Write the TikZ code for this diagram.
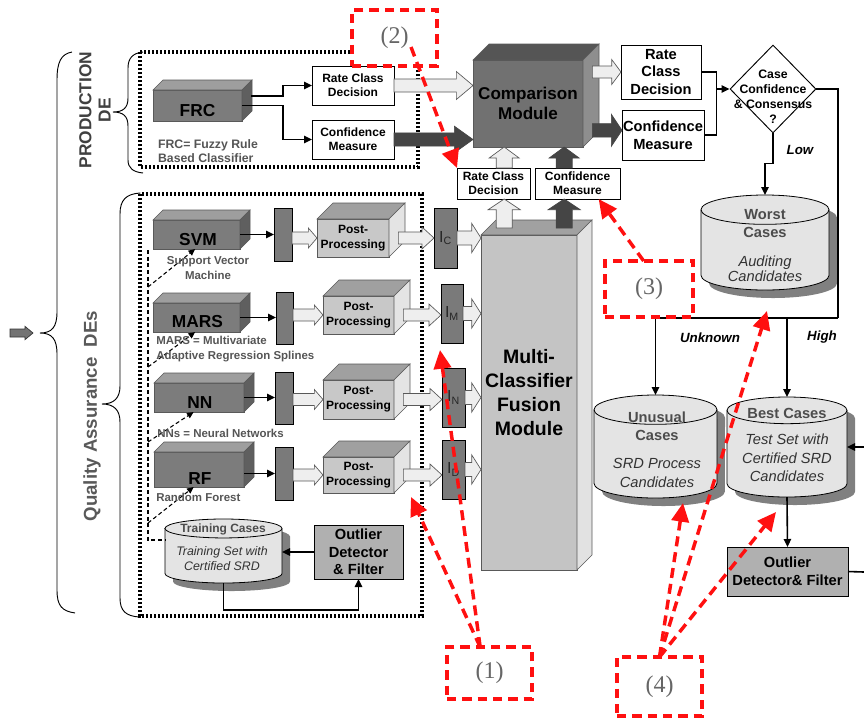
\documentclass[tikz,border=0pt]{standalone}
\usepackage{fontspec}
\setmainfont{Liberation Sans}
\newfontfamily\serifnum{Liberation Serif}
\usetikzlibrary{calc,arrows.meta,shapes.geometric}

\definecolor{cfront}{HTML}{7C7C7C}
\definecolor{ctop}{HTML}{9E9E9E}
\definecolor{cside}{HTML}{5F5F5F}
\definecolor{ppfront}{HTML}{C8C8C8}
\definecolor{pptop}{HTML}{A0A0A0}
\definecolor{ppside}{HTML}{E4E4E4}
\definecolor{cmpfront}{HTML}{717171}
\definecolor{cmptop}{HTML}{555555}
\definecolor{cmpside}{HTML}{8E8E8E}
\definecolor{fusfront}{HTML}{C4C4C4}
\definecolor{fustop}{HTML}{A1A1A1}
\definecolor{fusside}{HTML}{E2E2E2}
\definecolor{barfill}{HTML}{7A7A7A}
\definecolor{outfill}{HTML}{B0B0B0}
\definecolor{drumfill}{HTML}{E4E4E4}
\definecolor{drumshadow}{HTML}{808080}
\definecolor{lightarr}{HTML}{EEEEEE}
\definecolor{darkarr}{HTML}{454545}
\definecolor{notegray}{HTML}{555555}
\definecolor{annred}{HTML}{FF1010}
\definecolor{anngray}{HTML}{666666}

% top and right faces of a box whose front face is node #1
\newcommand{\cubefaces}[4]{%
  \filldraw[cubeedge, fill=#3] (#1.north west) -- ++(#2,-#2) -- ($(#1.north east)+(#2,-#2)$) -- (#1.north east) -- cycle;
  \filldraw[cubeedge, fill=#4] (#1.north east) -- ($(#1.north east)+(#2,-#2)$) -- ($(#1.south east)+(#2,-#2)$) -- (#1.south east) -- cycle;
}
% database drum drawn around node #1 (x radius #2, y radius #3, fill #4)
\newcommand{\drum}[4]{%
  \fill[drumshadow] ($(#1.north west)+(6pt,-6pt-#3)$) -- ($(#1.south west)+(6pt,-6pt+#3)$)
     arc[start angle=180, end angle=360, x radius=#2, y radius=#3]
     -- ($(#1.north east)+(6pt,-6pt-#3)$)
     arc[start angle=0, end angle=180, x radius=#2, y radius=#3] -- cycle;
  \filldraw[draw=black, line width=0.6pt, fill=#4] ($(#1.north west)+(0pt,-#3)$) -- ($(#1.south west)+(0pt,#3)$)
     arc[start angle=180, end angle=360, x radius=#2, y radius=#3]
     -- ($(#1.north east)+(0pt,-#3)$)
     arc[start angle=0, end angle=180, x radius=#2, y radius=#3] -- cycle;
  \draw[line width=0.6pt] ($(#1.north west)+(0pt,-#3)$) arc[start angle=180, end angle=360, x radius=#2, y radius=#3];
}
% block arrow pointing right: style, from, to, shaft half width, head half width, head length
\newcommand{\blockright}[6]{%
  \filldraw[#1] let \p1=(#2), \p2=(#3) in
    (\x1,\y1+#4) -- (\x2-#6,\y1+#4) -- (\x2-#6,\y1+#5) -- (\x2,\y1) -- (\x2-#6,\y1-#5) -- (\x2-#6,\y1-#4) -- (\x1,\y1-#4) -- cycle;
}
% block arrow pointing up
\newcommand{\blockup}[6]{%
  \filldraw[#1] let \p1=(#2), \p2=(#3) in
    (\x1-#4,\y1) -- (\x1-#4,\y2-#6) -- (\x1-#5,\y2-#6) -- (\x1,\y2) -- (\x1+#5,\y2-#6) -- (\x1+#4,\y2-#6) -- (\x1+#4,\y1) -- cycle;
}

\begin{document}
\begin{tikzpicture}[x=0.75pt,y=-0.75pt,
  spanpx/.style n args={4}{anchor=north west, inner sep=0pt, outer sep=0pt,
     minimum width={(#3-#1)*0.75pt}, minimum height={(#4-#2)*0.75pt}, at={(#1,#2)}},
  boxnode/.style={draw=black, line width=0.7pt, fill=white, align=center, font=\bfseries\fontsize{9}{10.8}\selectfont},
  bigbox/.style={boxnode, font=\bfseries\fontsize{11}{13.4}\selectfont},
  cubefront/.style={draw=black!65, line width=0.4pt},
  cubeedge/.style={draw=black!65, line width=0.4pt},
  ppnode/.style={cubefront, fill=ppfront, align=center, font=\bfseries\fontsize{9}{11.2}\selectfont},
  barnode/.style={draw=black, line width=0.6pt, fill=barfill},
  ibox/.style={draw=black, line width=0.6pt, fill=barfill, text=black!85, font=\fontsize{12}{14}\selectfont},
  lbl/.style={inner sep=0pt, align=center, text=black},
  conn/.style={draw=black, line width=1.2pt, -{Triangle[length=6pt,width=5.5pt]}},
  plainline/.style={draw=black, line width=1.2pt},
  dline/.style={draw=black, line width=0.8pt, dash pattern=on 3pt off 2pt},
  darr/.style={dline, -{Triangle[length=5pt,width=4.5pt]}},
  dotbox/.style={draw=black, line width=2.4pt, dash pattern=on 1.8pt off 1.2pt},
  bracepath/.style={draw=black, line width=0.7pt},
  note/.style={inner sep=0pt, text=notegray, font=\bfseries\fontsize{8.6}{11.2}\selectfont},
  ann/.style={draw=annred, fill=white, line width=2.5pt, dash pattern=on 7pt off 4.5pt, text=anngray, font=\serifnum\fontsize{18}{20}\selectfont},
  annarr/.style={draw=annred, line width=2.6pt, dash pattern=on 7.5pt off 4.5pt, -{Triangle[length=14pt,width=13pt]}},
  lightblk/.style={fill=lightarr, draw=black!65, line width=0.5pt},
  darkblk/.style={fill=darkarr, draw=darkarr, line width=0.5pt},
  cyltxt/.style={inner sep=0pt, align=center, text=black!70, font=\bfseries\fontsize{11}{13.5}\selectfont},
  cylit/.style={inner sep=0pt, align=center, text=black!80, font=\itshape\fontsize{11}{13.8}\selectfont},
  branch/.style={inner sep=0pt, font=\bfseries\itshape\fontsize{10}{12}\selectfont}]

\useasboundingbox (0,0) rectangle (864,719);

% ---------- frames and braces ----------
\draw[dotbox] (140,52) rectangle (418,167);
\draw[dotbox] (140,194) rectangle (422,616);

\draw[bracepath] (72,52) .. controls (61,54) and (57,62) .. (57,80) -- (57,312)
   .. controls (57,327) and (52,333) .. (40,333) .. controls (52,333) and (57,339) .. (57,354)
   -- (57,590) .. controls (57,606) and (62,611) .. (75,613);
\draw[bracepath] (143,52) .. controls (133,53) and (128,58) .. (128,68) -- (128,98)
   .. controls (128,108) and (123,112) .. (113,112) .. controls (123,112) and (128,116) .. (128,126)
   -- (128,160) .. controls (128,168) and (133,172) .. (143,173);
\draw[bracepath] (140,193) .. controls (126,194) and (120,200) .. (120,214) -- (120,386)
   .. controls (120,398) and (114,404) .. (102,404) .. controls (114,404) and (120,410) .. (120,422)
   -- (120,598) .. controls (120,611) and (126,616) .. (139,617);

\coordinate (inA) at (10,333);
\coordinate (inB) at (33,333);
\blockright{fill=black!55, draw=black!80, line width=0.5pt}{inA}{inB}{3pt}{5pt}{6pt}

\node[rotate=90, align=center, text=black!75, inner sep=0pt,
      font=\bfseries\fontsize{13}{14.5}\selectfont] (prodlbl) at (95,110) {PRODUCTION\\DE};
\node[rotate=90, text=black!65, inner sep=0pt,
      font=\bfseries\fontsize{14}{16}\selectfont] (qalbl) at (92,416) {Quality Assurance\ \ DEs};

% ---------- production decision engine ----------
\node[spanpx={153}{90}{242}{121}, cubefront, fill=cfront] (frc) {};
\cubefaces{frc}{10}{ctop}{cside}
\node[lbl, font=\bfseries\fontsize{13}{15}\selectfont] (frclbl) at ([yshift=-4pt]frc.center) {FRC};
\node[note, align=left, font=\bfseries\fontsize{9.2}{10.5}\selectfont] (frcnote) at (208,151) {FRC= Fuzzy Rule\\Based Classifier};

\node[boxnode, spanpx={312}{66}{394}{105}] (rcd1) {Rate Class\\Decision};
\node[boxnode, spanpx={312}{120}{394}{159}] (cm1) {Confidence\\Measure};
\draw[conn] ([shift={(9,-9.5)}]frc.east) -- ++(32,0) |- (rcd1.west);
\draw[conn] (frc.east) -- ++(41,0) |- (cm1.west);

% ---------- comparison module ----------
\node[spanpx={473}{60}{583}{147}, cubefront, fill=cmpfront] (cmp) {};
\cubefaces{cmp}{16}{cmptop}{cmpside}
\node[lbl, font=\bfseries\fontsize{12.8}{15}\selectfont] (cmplbl) at (cmp.center) {Comparison\\Module};

\coordinate (cmpL1) at (cmp.west |- rcd1.east);
\blockright{lightblk}{rcd1.east}{cmpL1}{4.9pt}{10.5pt}{12.5pt}
\coordinate (cmpL2) at (cmp.west |- cm1.east);
\blockright{darkblk}{cm1.east}{cmpL2}{4.9pt}{10pt}{14pt}

\node[boxnode, font=\bfseries\fontsize{11}{13.4}\selectfont, spanpx={621}{45}{701}{99}] (rcd2) {Rate\\Class\\Decision};
\node[bigbox, spanpx={622}{110}{704}{160}] (cm2) {Confidence\\Measure};
\coordinate (cmpR) at ([xshift=7pt]cmp.east);
\coordinate (cm2in) at ([yshift=3.5pt]cm2.west);
\blockright{lightblk}{cmpR |- rcd2.west}{rcd2.west}{4.5pt}{9.4pt}{7pt}
\blockright{darkblk}{cmpR |- cm2in}{cm2in}{5pt}{12pt}{8pt}

% ---------- decision diamond ----------
\node[diamond, draw=black, line width=0.7pt, fill=white, minimum width=64.5pt, minimum height=66pt, inner sep=0pt] (dia) at (773,89) {};
\node[lbl, font=\bfseries\fontsize{9.2}{11.2}\selectfont] (dialbl) at (773,97) {Case\\Confidence\\\& Consensus\\?};
\coordinate (jn) at ($(dia.west)+(-13,0)$);
\draw[conn] (rcd2.east) -| (jn) -- (dia.west);
\draw[plainline] (cm2.east) -| (jn);

% ---------- case stores ----------
\node[spanpx={701}{195}{829}{290}] (worst) {};
\drum{worst}{48pt}{11pt}{drumfill}
\node[cyltxt] (worstA) at (765,224) {Worst\\Cases};
\node[cylit, font=\itshape\fontsize{11}{11}\selectfont] (worstB) at (765,269) {Auditing\\Candidates};
\draw[conn] (dia.south) -- ++(0,30) -| (worst.north);
\node[branch] (lowlbl) at (800,150) {Low};

\node[spanpx={594}{395}{717}{498}] (unus) {};
\drum{unus}{46.1pt}{11pt}{drumfill}
\node[cyltxt] (unusA) at (657,426) {Unusual\\Cases};
\node[cylit] (unusB) at (657,473) {SRD Process\\Candidates};

\node[spanpx={727}{397}{847}{497}] (best) {};
\drum{best}{45pt}{10pt}{drumfill}
\node[cyltxt] (bestA) at (787,413) {Best Cases};
\node[cylit] (bestB) at (787,458) {Test Set with\\Certified SRD\\Candidates};

\coordinate (rb) at (838,318);
\draw[plainline] (dia.east) -| (rb);
\draw[conn] (rb) -| (unus.north);
\draw[conn] (best.north |- rb) -- (best.north);
\node[branch] (unk) at (710,338) {Unknown};
\node[branch] (high) at (822,337) {High};

\coordinate (rin) at (864,447);
\draw[conn] (rin) -- (best.east |- rin);
\node[bigbox, fill=outfill, spanpx={727}{547}{848}{596}] (out2) {Outlier\\Detector\& Filter};
\draw[conn] (best.south) -- (out2.north);
\coordinate (rout) at (864,572);
\draw[plainline] (out2.east) -- (rout);

% ---------- fusion module ----------
\node[boxnode, spanpx={457}{168}{530}{199}] (rcdm) {Rate Class\\Decision};
\node[boxnode, spanpx={535}{168}{620}{199}] (cmm) {Confidence\\Measure};

\node[spanpx={481}{235}{577}{570}, cubefront, fill=fusfront] (fus) {};
\cubefaces{fus}{15}{fustop}{fusside}
\node[lbl, font=\bfseries\fontsize{14.6}{18.2}\selectfont] (fuslbl) at ([yshift=7.5pt]fus.center) {Multi-\\Classifier\\Fusion\\Module};

\coordinate (uL) at ([xshift=8pt]rcdm.north);
\coordinate (uD) at ([xshift=-10pt]cmm.north);
\coordinate (uLb) at ([xshift=8pt]rcdm.south);
\coordinate (uDb) at ([xshift=-10pt]cmm.south);
\blockup{lightblk}{uL}{uL |- cmp.south}{6pt}{11.25pt}{8.25pt}
\blockup{darkblk}{uD}{uD |- cmp.south}{6pt}{11.25pt}{8.25pt}
\coordinate (fL) at ($(uL |- fus.north)+(0,-7)$);
\coordinate (fD) at ($(uD |- fus.north)+(0,-7)$);
\blockup{lightblk}{fL}{uLb}{6pt}{12pt}{8pt}
\blockup{darkblk}{fD}{uDb}{6pt}{12pt}{8pt}

% ---------- quality assurance decision engines ----------
\node[spanpx={153}{220}{240}{249}, cubefront, fill=cfront] (svm) {};
\cubefaces{svm}{10}{ctop}{cside}
\node[lbl, font=\bfseries\fontsize{13}{15}\selectfont] (svmlbl) at ([shift={(1.5,5.5)}]svm.center) {SVM};
\node[spanpx={153}{303}{240}{332}, cubefront, fill=cfront] (mars) {};
\cubefaces{mars}{10}{ctop}{cside}
\node[lbl, font=\bfseries\fontsize{13}{15}\selectfont] (marslbl) at ([shift={(1,4.5)}]mars.center) {MARS};
\node[spanpx={154}{383}{244}{412}, cubefront, fill=cfront] (nn) {};
\cubefaces{nn}{10}{ctop}{cside}
\node[lbl, font=\bfseries\fontsize{13}{15}\selectfont] (nnlbl) at ([shift={(1,5)}]nn.center) {NN};
\node[spanpx={154}{452}{244}{487}, cubefront, fill=cfront] (rf) {};
\cubefaces{rf}{10}{ctop}{cside}
\node[lbl, font=\bfseries\fontsize{13}{15}\selectfont] (rflbl) at ([shift={(1,9)}]rf.center) {RF};

\node[barnode, spanpx={274}{208}{292}{261}] (bar1) {};
\node[barnode, spanpx={276}{292}{293}{344}] (bar2) {};
\node[barnode, spanpx={275}{372}{293}{424}] (bar3) {};
\node[barnode, spanpx={275}{447}{293}{500}] (bar4) {};
\draw[conn] (svm.east) -- (svm.east -| bar1.west);
\draw[conn] (mars.east) -- (mars.east -| bar2.west);
\draw[conn] (nn.east) -- (nn.east -| bar3.west);
\draw[conn] (rf.east |- bar4.west) -- (bar4.west);

\node[ppnode, spanpx={317}{219}{389}{257}] (pp1) {Post-\\Processing};
\cubefaces{pp1}{16}{pptop}{ppside}
\node[ppnode, spanpx={323}{296}{394}{334}] (pp2) {Post-\\Processing};
\cubefaces{pp2}{16}{pptop}{ppside}
\node[ppnode, spanpx={323}{380}{394}{419}] (pp3) {Post-\\Processing};
\cubefaces{pp3}{16}{pptop}{ppside}
\node[ppnode, spanpx={323}{457}{394}{493}] (pp4) {Post-\\Processing};
\cubefaces{pp4}{16}{pptop}{ppside}

\blockright{lightblk}{bar1.east |- pp1.west}{pp1.west}{4.5pt}{7.5pt}{6.5pt}
\blockright{lightblk}{bar2.east |- pp2.west}{pp2.west}{4.5pt}{7.5pt}{6.5pt}
\blockright{lightblk}{bar3.east |- pp3.west}{pp3.west}{4.5pt}{7.5pt}{6.5pt}
\blockright{lightblk}{bar4.east |- pp4.west}{pp4.west}{4.5pt}{7.5pt}{6.5pt}

\node[ibox, spanpx={434}{208}{457}{268}] (ic) {I\textsubscript{C}};
\node[ibox, spanpx={441}{284}{463}{343}] (im) {I\textsubscript{M}};
\node[ibox, spanpx={442}{368}{465}{427}] (in) {I\textsubscript{N}};
\node[ibox, spanpx={442}{440}{465}{499}] (id) {I\textsubscript{D}};

\coordinate (pp1o) at ([xshift=7pt]pp1.east);
\coordinate (pp2o) at ([xshift=7pt]pp2.east);
\coordinate (pp3o) at ([xshift=7pt]pp3.east);
\coordinate (pp4o) at ([xshift=7pt]pp4.east);
\blockright{lightblk}{pp1o}{ic.west |- pp1o}{4.5pt}{8.25pt}{9pt}
\blockright{lightblk}{pp2o}{im.west |- pp2o}{4.5pt}{8.25pt}{9pt}
\blockright{lightblk}{pp3o}{in.west |- pp3o}{4.5pt}{8.25pt}{9pt}
\blockright{lightblk}{pp4o}{id.west |- pp4o}{4.5pt}{8.25pt}{9pt}

\blockright{lightblk}{ic.east}{fus.west |- ic.east}{5.25pt}{11pt}{7pt}
\blockright{lightblk}{im.east}{fus.west |- im.east}{5.25pt}{11pt}{7pt}
\blockright{lightblk}{in.east}{fus.west |- in.east}{5.25pt}{11pt}{7pt}
\blockright{lightblk}{id.east}{fus.west |- id.east}{5.25pt}{11pt}{7pt}

% ---------- training loop ----------
\node[spanpx={165}{519}{282}{583}] (train) {};
\drum{train}{43.9pt}{7.1pt}{drumfill}
\node[lbl, text=black!70, font=\bfseries\fontsize{9}{11}\selectfont] (trainA) at (223,529) {Training Cases};
\node[lbl, text=black!80, font=\itshape\fontsize{9.3}{11.2}\selectfont] (trainB) at (222,559) {Training Set with\\Certified SRD};

\node[bigbox, fill=outfill, spanpx={314}{525}{403}{579}, font=\bfseries\fontsize{11}{13.1}\selectfont] (out1) {Outlier\\Detector\\\& Filter};
\draw[conn] (out1.west) -- (train.east |- out1.west);
\draw[conn] (train.south) -- ++(0,27) -| (out1.south);

\coordinate (dtop) at (148,250);
\coordinate (dbot) at (148,540);
\draw[dline] (dtop) -- (dbot) -- (train.west |- dbot);
\coordinate (d1) at (148,287);
\coordinate (d2) at (148,367);
\coordinate (d3) at (148,442);
\coordinate (d4) at (148,523);
\draw[darr] (d1) -- ([xshift=-1pt]svm.south);
\draw[darr] (d2) -- ([xshift=-1pt]mars.south);
\draw[darr] (d3) -- ([xshift=-4pt]nn.south);
\draw[darr] (d4) -- ([xshift=-4pt]rf.south);

\node[note, align=center] (svmnote) at (208,268.5) {Support Vector\\Machine};
\node[note, align=left, anchor=west] (marsnote) at (156,349.5) {MARS = Multivariate\\Adaptive Regression Splines};
\node[note, anchor=west] (nnnote) at (157,433) {NNs = Neural Networks};
\node[note, anchor=west] (rfnote) at (156,497) {Random Forest};

% ---------- numbered call-outs ----------
\node[ann, spanpx={352}{10}{437}{66}] (ann2) {(2)};
\node[ann, spanpx={605}{261}{693}{317}] (ann3) {(3)};
\node[ann, spanpx={447}{647}{532}{699}] (ann1) {(1)};
\node[ann, spanpx={617}{657}{702}{716}] (ann4) {(4)};

\coordinate (r2s) at (411,47);
\coordinate (r1a) at (440,350);
\coordinate (r1b) at (411,497);
\coordinate (r4a) at (683,503);
\coordinate (r4b) at (767,311);
\coordinate (r4c) at (776,512);
\draw[annarr] (r2s) -- (rcdm.north west);
\draw[annarr] ([xshift=-4pt]ann3.north) -- ([xshift=-16pt]cmm.south east);
\draw[annarr] ([xshift=-7pt]ann1.north) -- (r1a);
\draw[annarr] ([xshift=-7pt]ann1.north) -- (r1b);
\draw[annarr] (ann4.north) -- (r4a);
\draw[annarr] (ann4.north) -- (r4b);
\draw[annarr] (ann4.north) -- (r4c);
\end{tikzpicture}
\end{document}
